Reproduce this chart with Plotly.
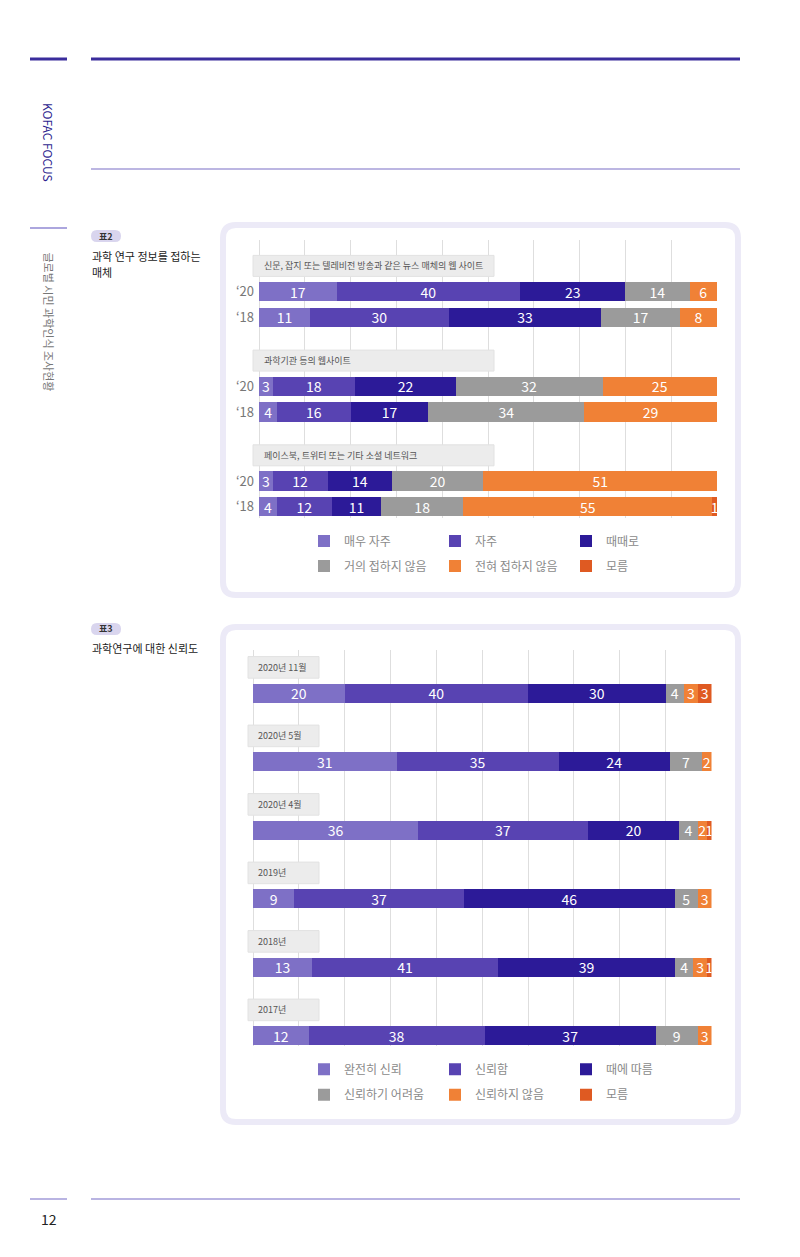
import plotly.graph_objects as go

W, H = 800, 1257

# ---------------- Data: 표2 과학 연구 정보를 접하는 매체 ----------------
media_groups = [
    "신문, 잡지 또는 텔레비전 방송과 같은 뉴스 매체의 웹 사이트",
    "과학기관 등의 웹사이트",
    "페이스북, 트위터 또는 기타 소셜 네트워크",
]
years1 = ["‘20", "‘18"]
series1_names = ["매우 자주", "자주", "때때로", "거의 접하지 않음", "전혀 접하지 않음", "모름"]
# row order: news '20, news '18, institute '20, institute '18, sns '20, sns '18
very_often = [17, 11, 3, 4, 3, 4]
often = [40, 30, 18, 16, 12, 12]
sometimes = [23, 33, 22, 17, 14, 11]
rarely = [14, 17, 32, 34, 20, 18]
never = [6, 8, 25, 29, 51, 55]
dont_know1 = [0, 0, 0, 0, 0, 1]

# ---------------- Data: 표3 과학연구에 대한 신뢰도 ----------------
periods = ["2020년 11월", "2020년 5월", "2020년 4월", "2019년", "2018년", "2017년"]
series2_names = ["완전히 신뢰", "신뢰함", "때에 따름", "신뢰하기 어려움", "신뢰하지 않음", "모름"]
complete_trust = [20, 31, 36, 9, 13, 12]
trust = [40, 35, 37, 37, 41, 38]
depends = [30, 24, 20, 46, 39, 37]
hard_to_trust = [4, 7, 4, 5, 4, 9]
distrust = [3, 2, 2, 3, 3, 3]
dont_know2 = [3, 0, 1, 0, 1, 0]

colors = ["#7e70c6", "#5843b2", "#2c1a98", "#9b9b9b", "#f08136", "#df5a22"]

FONT = "Noto Sans CJK KR, Noto Sans, sans-serif"

# ---------------- layout helpers (pixel -> paper) ----------------
def px(x):
    return x / W

def py(y):
    return 1 - y / H

def rr_path(x0, y0, x1, y1, r):
    X0, X1 = px(x0), px(x1)
    rx = r / W
    ry = r / H
    Y0, Y1 = py(y0), py(y1)  # Y0 top (larger), Y1 bottom
    return (f"M{X0+rx},{Y0} L{X1-rx},{Y0} Q{X1},{Y0} {X1},{Y0-ry} "
            f"L{X1},{Y1+ry} Q{X1},{Y1} {X1-rx},{Y1} L{X0+rx},{Y1} "
            f"Q{X0},{Y1} {X0},{Y1+ry} L{X0},{Y0-ry} Q{X0},{Y0} {X0+rx},{Y0} Z")

# row positions (pixel units on the y axes)
C1_ROW0, C1_GSTEP, C1_RSTEP = 291.6, 94.7, 25.7
C2_ROW0, C2_STEP = 693.3, 68.5
BAR_H = 19.3

y1_pos = [C1_ROW0 + g * C1_GSTEP + r * C1_RSTEP
          for g in range(len(media_groups)) for r in range(len(years1))]
y1_text = [years1[r] for g in range(len(media_groups)) for r in range(len(years1))]
y2_pos = [C2_ROW0 + i * C2_STEP for i in range(len(periods))]

fig = go.Figure()

series1 = [very_often, often, sometimes, rarely, never, dont_know1]
for i, (name, vals) in enumerate(zip(series1_names, series1)):
    fig.add_trace(go.Bar(
        x=vals, y=y1_pos, orientation="h", name=name,
        marker=dict(color=colors[i], line=dict(width=0)),
        width=BAR_H,
        text=[str(v) if v else "" for v in vals],
        textposition="inside", insidetextanchor="middle", textangle=0,
        insidetextfont=dict(color="white", size=14, family=FONT),
        xaxis="x", yaxis="y",
        legend="legend" if i < 3 else "legend2",
        hoverinfo="skip",
    ))

series2 = [complete_trust, trust, depends, hard_to_trust, distrust, dont_know2]
for i, (name, vals) in enumerate(zip(series2_names, series2)):
    fig.add_trace(go.Bar(
        x=vals, y=y2_pos, orientation="h", name=name,
        marker=dict(color=colors[i], line=dict(width=0)),
        width=BAR_H,
        text=[str(v) if v else "" for v in vals],
        textposition="inside", insidetextanchor="middle", textangle=0,
        insidetextfont=dict(color="white", size=14, family=FONT),
        xaxis="x2", yaxis="y2",
        legend="legend3" if i < 3 else "legend4",
        hoverinfo="skip",
    ))

GRID = "#dedede"
xcommon = dict(range=[0, 100], dtick=10, tick0=0, showgrid=True, gridcolor=GRID,
               gridwidth=1, zeroline=True, zerolinecolor=GRID, zerolinewidth=1,
               showticklabels=False, ticks="", showline=False, fixedrange=True)

shapes = []
annotations = []

# panels
for (y0, y1) in [(225, 595), (627, 1122)]:
    shapes.append(dict(type="path", xref="paper", yref="paper",
                       path=rr_path(223, y0, 738, y1, 13),
                       fillcolor="white", line=dict(color="#eceaf7", width=6),
                       layer="below"))

# decorative page lines
def hline(x0, x1, y, color, w):
    shapes.append(dict(type="line", xref="paper", yref="paper",
                       x0=px(x0), x1=px(x1), y0=py(y), y1=py(y),
                       line=dict(color=color, width=w), layer="above"))

hline(30, 67, 59, "#3a2c9c", 3)
hline(91, 740, 59, "#3a2c9c", 3)
hline(91, 740, 169, "#7a6fc6", 1.2)
hline(30, 67, 228, "#9189d3", 1.5)
hline(30, 67, 1199, "#a29bd8", 1.5)
hline(91, 740, 1199, "#a29bd8", 1.5)

# category label boxes (chart 1)
for g, label in enumerate(media_groups):
    cy = C1_ROW0 + g * C1_GSTEP - C1_RSTEP
    shapes.append(dict(type="rect", xref="paper", yref="paper",
                       x0=px(253), x1=px(494), y0=py(cy - 10.5), y1=py(cy + 10.5),
                       fillcolor="#ececec", line=dict(color="#e2e2e2", width=1),
                       layer="above"))
    annotations.append(dict(text=label, xref="paper", yref="paper",
                            x=px(262), y=py(cy), xanchor="left", yanchor="middle",
                            showarrow=False, font=dict(size=9, color="#555", family=FONT)))

# period label boxes (chart 2)
for i, label in enumerate(periods):
    cy = C2_ROW0 + i * C2_STEP - 25.9
    shapes.append(dict(type="rect", xref="paper", yref="paper",
                       x0=px(248), x1=px(319), y0=py(cy - 10.8), y1=py(cy + 10.8),
                       fillcolor="#ececec", line=dict(color="#e2e2e2", width=1),
                       layer="above"))
    annotations.append(dict(text=label, xref="paper", yref="paper",
                            x=px(256), y=py(cy), xanchor="left", yanchor="middle",
                            showarrow=False, font=dict(size=9, color="#555", family=FONT)))

# badges
for cy, label in [(236, "표2"), (629, "표3")]:
    shapes.append(dict(type="path", xref="paper", yref="paper",
                       path=rr_path(91, cy - 6, 121, cy + 6, 6),
                       fillcolor="#d9d5ee", line=dict(width=0), layer="above"))
    annotations.append(dict(text=f"<b>{label}</b>", xref="paper", yref="paper",
                            x=px(106), y=py(cy), xanchor="center", yanchor="middle",
                            showarrow=False, font=dict(size=9, color="#333", family=FONT)))

def text(t, x, y, size, color, xanchor="left", angle=0):
    annotations.append(dict(text=t, xref="paper", yref="paper", x=px(x), y=py(y),
                            xanchor=xanchor, yanchor="middle", showarrow=False,
                            textangle=angle, font=dict(size=size, color=color, family=FONT)))

text("과학 연구 정보를 접하는", 90, 256.5, 11, "#222")
text("매체", 90, 272, 11, "#222")
text("과학연구에 대한 신뢰도", 90, 648, 11, "#222")
text("KOFAC FOCUS", 48.5, 142.5, 12, "#2e1f8f", xanchor="center", angle=90)
text("글로벌 시민 과학인식 조사현황", 48, 321.5, 11, "#777", xanchor="center", angle=90)
text("12", 48.5, 1218.5, 14, "#222", xanchor="center")

def legend(y):
    return dict(orientation="h", x=px(304), xanchor="left", y=py(y), yanchor="middle",
                entrywidth=86, entrywidthmode="pixels", traceorder="normal",
                bgcolor="rgba(0,0,0,0)", font=dict(size=12, color="#8a8a8a", family=FONT),
                itemclick=False, itemdoubleclick=False)

fig.update_layout(
    width=W, height=H,
    margin=dict(l=0, r=0, t=0, b=0),
    paper_bgcolor="white", plot_bgcolor="rgba(0,0,0,0)",
    font=dict(family=FONT),
    barmode="stack", barnorm="percent",
    uniformtext=dict(minsize=14, mode="show"),
    xaxis=dict(domain=[px(259), px(717)], anchor="y", **xcommon),
    yaxis=dict(domain=[py(518), py(240)], range=[518, 240], anchor="x",
               tickvals=y1_pos, ticktext=y1_text, showgrid=False, zeroline=False,
               ticks="", ticklabelstandoff=4,
               tickfont=dict(size=13, color="#777", family=FONT), fixedrange=True),
    xaxis2=dict(domain=[px(253), px(711.5)], anchor="y2", **xcommon),
    yaxis2=dict(domain=[py(1046), py(650)], range=[1046, 650], anchor="x2",
                showticklabels=False, showgrid=False, zeroline=False, ticks="",
                fixedrange=True),
    legend=legend(541),
    legend2=legend(566),
    legend3=legend(1069.3),
    legend4=legend(1094.7),
    shapes=shapes,
    annotations=annotations,
    showlegend=True,
)

fig.write_html("out.html")
